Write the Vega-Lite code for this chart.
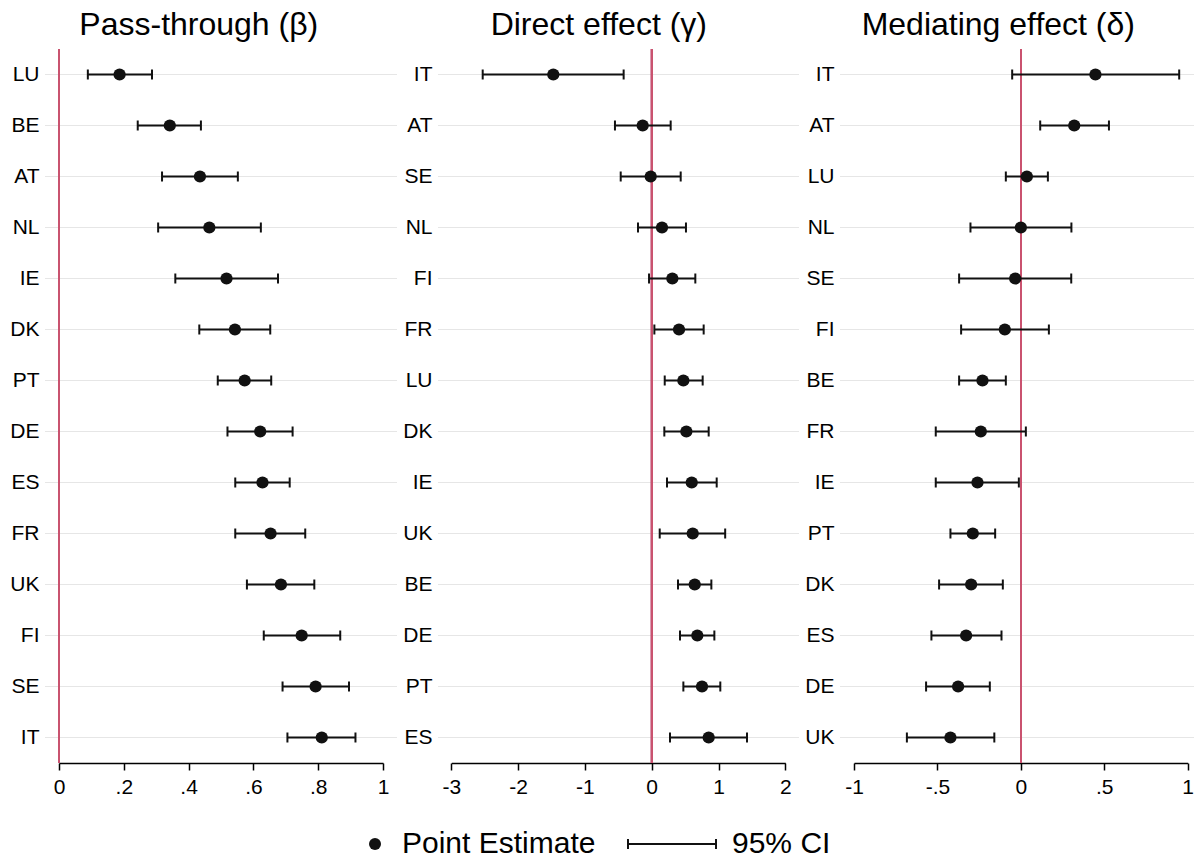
{
  "$schema": "https://vega.github.io/schema/vega-lite/v6.json",
  "padding": {"left": 0, "top": 9, "right": 0, "bottom": 0},
  "spacing": 0,
  "datasets": {
    "beta": [
      {"country": "LU", "lo": 0.089, "est": 0.187, "hi": 0.287},
      {"country": "BE", "lo": 0.243, "est": 0.342, "hi": 0.438},
      {"country": "AT", "lo": 0.318, "est": 0.435, "hi": 0.552},
      {"country": "NL", "lo": 0.306, "est": 0.464, "hi": 0.623},
      {"country": "IE", "lo": 0.359, "est": 0.517, "hi": 0.676},
      {"country": "DK", "lo": 0.433, "est": 0.543, "hi": 0.652},
      {"country": "PT", "lo": 0.490, "est": 0.573, "hi": 0.655},
      {"country": "DE", "lo": 0.520, "est": 0.621, "hi": 0.721},
      {"country": "ES", "lo": 0.544, "est": 0.628, "hi": 0.712},
      {"country": "FR", "lo": 0.544, "est": 0.653, "hi": 0.760},
      {"country": "UK", "lo": 0.580, "est": 0.685, "hi": 0.788},
      {"country": "FI", "lo": 0.632, "est": 0.749, "hi": 0.868},
      {"country": "SE", "lo": 0.690, "est": 0.792, "hi": 0.895},
      {"country": "IT", "lo": 0.705, "est": 0.811, "hi": 0.915}
    ],
    "gamma": [
      {"country": "IT", "lo": -2.53, "est": -1.473, "hi": -0.42},
      {"country": "AT", "lo": -0.55, "est": -0.135, "hi": 0.284},
      {"country": "SE", "lo": -0.464, "est": -0.015, "hi": 0.434},
      {"country": "NL", "lo": -0.205, "est": 0.154, "hi": 0.513},
      {"country": "FI", "lo": -0.04, "est": 0.309, "hi": 0.653},
      {"country": "FR", "lo": 0.04, "est": 0.409, "hi": 0.778},
      {"country": "LU", "lo": 0.195, "est": 0.474, "hi": 0.763},
      {"country": "DK", "lo": 0.189, "est": 0.519, "hi": 0.853},
      {"country": "IE", "lo": 0.229, "est": 0.599, "hi": 0.973},
      {"country": "UK", "lo": 0.12, "est": 0.614, "hi": 1.10},
      {"country": "BE", "lo": 0.394, "est": 0.644, "hi": 0.893},
      {"country": "DE", "lo": 0.424, "est": 0.683, "hi": 0.938},
      {"country": "PT", "lo": 0.474, "est": 0.753, "hi": 1.027},
      {"country": "ES", "lo": 0.274, "est": 0.853, "hi": 1.427}
    ],
    "delta": [
      {"country": "IT", "lo": -0.052, "est": 0.447, "hi": 0.949},
      {"country": "AT", "lo": 0.116, "est": 0.320, "hi": 0.528},
      {"country": "LU", "lo": -0.09, "est": 0.036, "hi": 0.162},
      {"country": "NL", "lo": -0.302, "est": 0.0, "hi": 0.303},
      {"country": "SE", "lo": -0.37, "est": -0.034, "hi": 0.302},
      {"country": "FI", "lo": -0.358, "est": -0.096, "hi": 0.168},
      {"country": "BE", "lo": -0.37, "est": -0.23, "hi": -0.09},
      {"country": "FR", "lo": -0.51, "est": -0.24, "hi": 0.03},
      {"country": "IE", "lo": -0.51, "est": -0.26, "hi": -0.012},
      {"country": "PT", "lo": -0.422, "est": -0.288, "hi": -0.154},
      {"country": "DK", "lo": -0.49, "est": -0.298, "hi": -0.108},
      {"country": "ES", "lo": -0.536, "est": -0.328, "hi": -0.116},
      {"country": "DE", "lo": -0.568, "est": -0.376, "hi": -0.186},
      {"country": "UK", "lo": -0.683, "est": -0.422, "hi": -0.159}
    ]
  },
  "hconcat": [
    {
      "width": 352,
      "height": 714,
      "title": {"text": "Pass-through (β)"},
      "data": {"name": "beta"},
      "layer": [
        {
          "mark": {"type": "rule", "color": "#e6e6e6", "strokeWidth": 1.2},
          "encoding": {"y": {"field": "country", "type": "nominal", "sort": null, "axis": {"title": null, "minExtent": 45, "maxExtent": 45}}}
        },
        {
          "mark": {"type": "rule", "color": "#c9536f", "strokeWidth": 1.5},
          "encoding": {"x": {"datum": 0, "type": "quantitative"}}
        },
        {
          "mark": {"type": "rule", "color": "#111111", "strokeWidth": 2},
          "encoding": {
            "x": {"field": "lo", "type": "quantitative", "scale": {"domain": [0, 1], "range": [14, 338], "nice": false, "zero": false}, "axis": {"title": null, "values": [0, 0.2, 0.4, 0.6, 0.8, 1], "labelExpr": "replace(toString(datum.value), '0.', '.')"}},
            "x2": {"field": "hi"},
            "y": {"field": "country", "type": "nominal", "sort": null}
          }
        },
        {
          "mark": {"type": "tick", "orient": "vertical", "size": 10, "thickness": 2, "color": "#111111", "opacity": 1},
          "encoding": {"x": {"field": "lo", "type": "quantitative"}, "y": {"field": "country", "type": "nominal", "sort": null}}
        },
        {
          "mark": {"type": "tick", "orient": "vertical", "size": 10, "thickness": 2, "color": "#111111", "opacity": 1},
          "encoding": {"x": {"field": "hi", "type": "quantitative"}, "y": {"field": "country", "type": "nominal", "sort": null}}
        },
        {
          "mark": {"type": "point", "filled": true, "size": 150, "color": "#111111", "opacity": 1},
          "encoding": {
            "x": {"field": "est", "type": "quantitative"},
            "y": {"field": "country", "type": "nominal", "sort": null},
            "shape": {
              "datum": "Point Estimate",
              "type": "nominal",
              "scale": {"domain": ["Point Estimate", "95% CI"], "range": ["circle", "M-13,-0.83H-12.67V-0.17H1.67V-0.83H2V0.83H1.67V0.17H-12.67V0.83H-13Z"]},
              "legend": {
                "title": null,
                "orient": "none",
                "direction": "horizontal",
                "legendX": 315,
                "legendY": 780,
                "padding": 0,
                "symbolSize": 144,
                "symbolFillColor": "#111111",
                "symbolStrokeColor": "#111111",
                "symbolStrokeWidth": 0.5,
                "symbolOpacity": 1,
                "labelOffset": 12,
                "columnPadding": 30,
                "labelLimit": 0,
                "labelFontSize": 30,
                "labelFont": "Liberation Sans",
                "labelColor": "#000000"
              }
            }
          }
        }
      ]
    },
    {
      "width": 361,
      "height": 714,
      "title": {"text": "Direct effect (γ)"},
      "data": {"name": "gamma"},
      "layer": [
        {
          "mark": {"type": "rule", "color": "#e6e6e6", "strokeWidth": 1.2},
          "encoding": {"y": {"field": "country", "type": "nominal", "sort": null, "axis": {"title": null, "minExtent": 40, "maxExtent": 40}}}
        },
        {
          "mark": {"type": "rule", "color": "#c9536f", "strokeWidth": 1.5},
          "encoding": {"x": {"datum": 0, "type": "quantitative"}}
        },
        {
          "mark": {"type": "rule", "color": "#111111", "strokeWidth": 2},
          "encoding": {
            "x": {"field": "lo", "type": "quantitative", "scale": {"domain": [-3, 2], "range": [13.3, 347.3], "nice": false, "zero": false}, "axis": {"title": null, "values": [-3, -2, -1, 0, 1, 2], "labelExpr": "toString(datum.value)"}},
            "x2": {"field": "hi"},
            "y": {"field": "country", "type": "nominal", "sort": null}
          }
        },
        {
          "mark": {"type": "tick", "orient": "vertical", "size": 10, "thickness": 2, "color": "#111111", "opacity": 1},
          "encoding": {"x": {"field": "lo", "type": "quantitative"}, "y": {"field": "country", "type": "nominal", "sort": null}}
        },
        {
          "mark": {"type": "tick", "orient": "vertical", "size": 10, "thickness": 2, "color": "#111111", "opacity": 1},
          "encoding": {"x": {"field": "hi", "type": "quantitative"}, "y": {"field": "country", "type": "nominal", "sort": null}}
        },
        {
          "mark": {"type": "point", "filled": true, "size": 150, "color": "#111111", "opacity": 1},
          "encoding": {"x": {"field": "est", "type": "quantitative"}, "y": {"field": "country", "type": "nominal", "sort": null}}
        }
      ]
    },
    {
      "width": 356,
      "height": 714,
      "title": {"text": "Mediating effect (δ)"},
      "data": {"name": "delta"},
      "layer": [
        {
          "mark": {"type": "rule", "color": "#e6e6e6", "strokeWidth": 1.2},
          "encoding": {"y": {"field": "country", "type": "nominal", "sort": null, "axis": {"title": null, "minExtent": 40, "maxExtent": 40}}}
        },
        {
          "mark": {"type": "rule", "color": "#c9536f", "strokeWidth": 1.5},
          "encoding": {"x": {"datum": 0, "type": "quantitative"}}
        },
        {
          "mark": {"type": "rule", "color": "#111111", "strokeWidth": 2},
          "encoding": {
            "x": {"field": "lo", "type": "quantitative", "scale": {"domain": [-1, 1], "range": [14, 347.7], "nice": false, "zero": false}, "axis": {"title": null, "values": [-1, -0.5, 0, 0.5, 1], "labelExpr": "replace(toString(datum.value), '0.', '.')"}},
            "x2": {"field": "hi"},
            "y": {"field": "country", "type": "nominal", "sort": null}
          }
        },
        {
          "mark": {"type": "tick", "orient": "vertical", "size": 10, "thickness": 2, "color": "#111111", "opacity": 1},
          "encoding": {"x": {"field": "lo", "type": "quantitative"}, "y": {"field": "country", "type": "nominal", "sort": null}}
        },
        {
          "mark": {"type": "tick", "orient": "vertical", "size": 10, "thickness": 2, "color": "#111111", "opacity": 1},
          "encoding": {"x": {"field": "hi", "type": "quantitative"}, "y": {"field": "country", "type": "nominal", "sort": null}}
        },
        {
          "mark": {"type": "point", "filled": true, "size": 150, "color": "#111111", "opacity": 1},
          "encoding": {"x": {"field": "est", "type": "quantitative"}, "y": {"field": "country", "type": "nominal", "sort": null}}
        }
      ]
    }
  ],
  "config": {
    "view": {"stroke": null},
    "font": "Liberation Sans",
    "background": "#ffffff",
    "title": {"font": "Liberation Sans", "fontSize": 32, "fontWeight": "normal", "color": "#000000", "anchor": "middle", "frame": "bounds", "baseline": "alphabetic", "offset": 6},
    "axis": {"labelFont": "Liberation Sans", "labelFontSize": 21, "labelColor": "#000000", "grid": false},
    "axisX": {"domainColor": "#000000", "domainWidth": 1.5, "tickColor": "#000000", "tickWidth": 1.5, "tickSize": 7, "labelPadding": 6, "labelFlush": false, "labelOverlap": false},
    "axisY": {"domain": false, "ticks": false, "labelPadding": 6, "labelOverlap": false}
  }
}
